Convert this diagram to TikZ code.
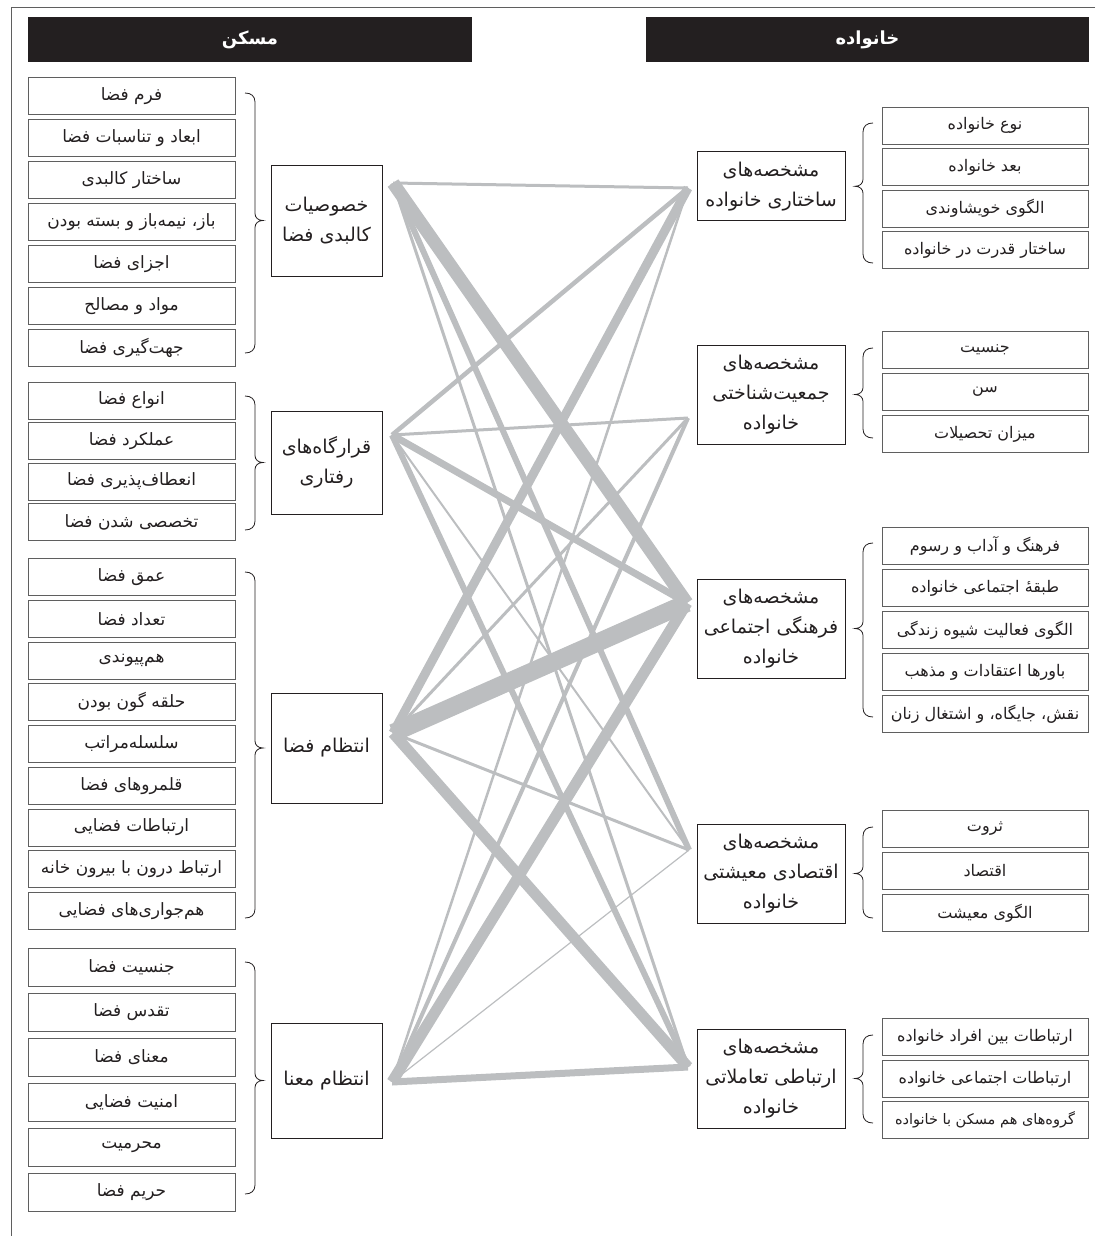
\documentclass[tikz,border=0pt]{standalone}
\usepackage{fontspec}
\newfontfamily\arabicfont[Script=Arabic]{DejaVu Sans}
\TeXXeTstate=1
\newcommand{\FA}[1]{{\arabicfont\beginR #1\endR}}
\definecolor{linegray}{RGB}{188,190,192}
\definecolor{boxgray}{RGB}{95,95,95}
\definecolor{ink}{RGB}{35,31,32}
\tikzset{
  leaf/.style={draw=boxgray, line width=0.9pt, minimum width=207pt, minimum height=37pt, inner sep=0pt, text=ink, font=\fontsize{17}{19}\selectfont},
  rleaf/.style={leaf, minimum width=206pt, font=\fontsize{16}{18}\selectfont},
  midnode/.style={draw=ink, line width=0.9pt, inner sep=0pt, text=ink, align=center, font=\fontsize{19}{30}\selectfont},
  header/.style={fill=ink, text=white, minimum height=45pt, inner sep=0pt, font=\fontsize{18}{20}\selectfont\bfseries},
  conn/.style={draw=linegray, line cap=butt},
  bracestyle/.style={draw=ink, line width=0.8pt},
}
\newcommand{\BraceL}[3]{% top, bump, bottom
  \draw[bracestyle] (245,#1) .. controls (251,#1) and (255,#1+3) .. (255,#1+9) -- (255,#2-7) .. controls (255,#2-3) and (258,#2) .. (263,#2) .. controls (258,#2) and (255,#2+3) .. (255,#2+7) -- (255,#3-9) .. controls (255,#3-3) and (251,#3) .. (245,#3);}
\newcommand{\BraceR}[3]{% top, bump, bottom
  \draw[bracestyle] (873,#1) .. controls (867,#1) and (863,#1+3) .. (863,#1+9) -- (863,#2-7) .. controls (863,#2-3) and (860,#2) .. (855,#2) .. controls (860,#2) and (863,#2+3) .. (863,#2+7) -- (863,#3-9) .. controls (863,#3-3) and (867,#3) .. (873,#3);}
\begin{document}
\begin{tikzpicture}[x=1pt,y=-1pt]
\useasboundingbox (0,0) rectangle (1095,1236);
% frame
\draw[boxgray, line width=1pt] (1095,8) -- (11.5,8) -- (11.5,1236);
% headers
\node[header, minimum width=444pt] (hL) at (250,39.5) {\FA{مسکن}};
\node[header, minimum width=443pt] (hR) at (867.5,39.5) {\FA{خانواده}};

% left leaves group 1
\node[leaf] (a1) at (131.5,96) {\FA{فرم فضا}};
\node[leaf] (a2) at (131.5,138) {\FA{ابعاد و تناسبات فضا}};
\node[leaf] (a3) at (131.5,180) {\FA{ساختار کالبدی}};
\node[leaf] (a4) at (131.5,222) {\FA{باز، نیمه‌باز و بسته بودن}};
\node[leaf] (a5) at (131.5,264) {\FA{اجزای فضا}};
\node[leaf] (a6) at (131.5,306) {\FA{مواد و مصالح}};
\node[leaf] (a7) at (131.5,348) {\FA{جهت‌گیری فضا}};
% group 2
\node[leaf] (b1) at (131.5,400.5) {\FA{انواع فضا}};
\node[leaf] (b2) at (131.5,441) {\FA{عملکرد فضا}};
\node[leaf] (b3) at (131.5,481.5) {\FA{انعطاف‌پذیری فضا}};
\node[leaf] (b4) at (131.5,522) {\FA{تخصصی شدن فضا}};
% group 3
\node[leaf] (c1) at (131.5,577) {\FA{عمق فضا}};
\node[leaf] (c2) at (131.5,618.75) {\FA{تعداد فضا}};
\node[leaf] (c3) at (131.5,660.5) {\FA{هم‌پیوندی}};
\node[leaf] (c4) at (131.5,702.25) {\FA{حلقه گون بودن}};
\node[leaf] (c5) at (131.5,744) {\FA{سلسله‌مراتب}};
\node[leaf] (c6) at (131.5,785.75) {\FA{قلمروهای فضا}};
\node[leaf] (c7) at (131.5,827.5) {\FA{ارتباطات فضایی}};
\node[leaf] (c8) at (131.5,869.25) {\FA{ارتباط درون با بیرون خانه}};
\node[leaf] (c9) at (131.5,911) {\FA{هم‌جواری‌های فضایی}};
% group 4
\node[leaf, minimum height=38pt] (d1) at (131.5,967) {\FA{جنسیت فضا}};
\node[leaf, minimum height=38pt] (d2) at (131.5,1012) {\FA{تقدس فضا}};
\node[leaf, minimum height=38pt] (d3) at (131.5,1057) {\FA{معنای فضا}};
\node[leaf, minimum height=38pt] (d4) at (131.5,1102) {\FA{امنیت فضایی}};
\node[leaf, minimum height=38pt] (d5) at (131.5,1147) {\FA{محرمیت}};
\node[leaf, minimum height=38pt] (d6) at (131.5,1192) {\FA{حریم فضا}};

% left middle nodes
\node[midnode, minimum width=111pt, minimum height=111pt] (L1) at (326.5,220.5) {\FA{خصوصیات}\\\FA{کالبدی فضا}};
\node[midnode, minimum width=111pt, minimum height=103pt] (L2) at (326.5,462.5) {\FA{قرارگاه‌های}\\\FA{رفتاری}};
\node[midnode, minimum width=111pt, minimum height=110pt] (L3) at (326.5,748) {\FA{انتظام فضا}};
\node[midnode, minimum width=111pt, minimum height=115pt] (L4) at (326.5,1080.5) {\FA{انتظام معنا}};

% right middle nodes
\node[midnode, minimum width=148pt, minimum height=69pt] (R1) at (771,186.3) {\FA{مشخصه‌های}\\\FA{ساختاری خانواده}};
\node[midnode, minimum width=148pt, minimum height=99pt] (R2) at (771,394.5) {\FA{مشخصه‌های}\\\FA{جمعیت‌شناختی}\\\FA{خانواده}};
\node[midnode, minimum width=148pt, minimum height=99pt] (R3) at (771,628.5) {\FA{مشخصه‌های}\\\FA{فرهنگی اجتماعی}\\\FA{خانواده}};
\node[midnode, minimum width=148pt, minimum height=99pt] (R4) at (771,873.5) {\FA{مشخصه‌های}\\\FA{اقتصادی معیشتی}\\\FA{خانواده}};
\node[midnode, minimum width=148pt, minimum height=99pt] (R5) at (771,1078.5) {\FA{مشخصه‌های}\\\FA{ارتباطی تعاملاتی}\\\FA{خانواده}};

% right leaves
\node[rleaf] (e1) at (985,125.5) {\FA{نوع خانواده}};
\node[rleaf] (e2) at (985,167) {\FA{بعد خانواده}};
\node[rleaf] (e3) at (985,208.5) {\FA{الگوی خویشاوندی}};
\node[rleaf] (e4) at (985,250) {\FA{ساختار قدرت در خانواده}};
\node[rleaf] (f1) at (985,350) {\FA{جنسیت}};
\node[rleaf] (f2) at (985,392) {\FA{سن}};
\node[rleaf] (f3) at (985,434) {\FA{میزان تحصیلات}};
\node[rleaf] (g1) at (985,546) {\FA{فرهنگ و آداب و رسوم}};
\node[rleaf] (g2) at (985,588) {\FA{طبقهٔ اجتماعی خانواده}};
\node[rleaf] (g3) at (985,630) {\FA{الگوی فعالیت شیوه زندگی}};
\node[rleaf] (g4) at (985,672) {\FA{باورها اعتقادات و مذهب}};
\node[rleaf] (g5) at (985,714) {\FA{نقش، جایگاه، و اشتغال زنان}};
\node[rleaf] (h1) at (985,829) {\FA{ثروت}};
\node[rleaf] (h2) at (985,871) {\FA{اقتصاد}};
\node[rleaf] (h3) at (985,913) {\FA{الگوی معیشت}};
\node[rleaf] (i1) at (985,1037) {\FA{ارتباطات بین افراد خانواده}};
\node[rleaf] (i2) at (985,1079) {\FA{ارتباطات اجتماعی خانواده}};
\node[rleaf, font=\fontsize{14.5}{17}\selectfont] (i3) at (985,1120) {\FA{گروه‌های هم مسکن با خانواده}};

% braces
\BraceL{93}{220.5}{353}
\BraceL{396}{462.5}{530}
\BraceL{572}{748}{918}
\BraceL{962}{1080.5}{1194}
\BraceR{123}{186.3}{263}
\BraceR{348}{394.5}{438}
\BraceR{543}{628.5}{717}
\BraceR{827}{873.5}{918}
\BraceR{1035}{1078.5}{1123}

% connector end points
\coordinate (pL1) at (393,183);
\coordinate (pL2) at (392,435);
\coordinate (pL3) at (393,733);
\coordinate (pL4) at (392,1082);
\coordinate (pR1) at (688,188);
\coordinate (pR2) at (688,418);
\coordinate (pR3) at (687,603);
\coordinate (pR4) at (689,850);
\coordinate (pR5) at (688,1067);

% connectors
\draw[conn, line width=3pt] (pL1) -- (pR1);
\draw[conn, line width=13pt] (pL1) -- (pR3);
\draw[conn, line width=6pt] (pL1) -- (pR4);
\draw[conn, line width=3pt] (pL1) -- (pR5);

\draw[conn, line width=4.5pt] (pL2) -- (pR1);
\draw[conn, line width=3pt] (pL2) -- (pR2);
\draw[conn, line width=7pt] (pL2) -- (pR3);
\draw[conn, line width=2pt] (pL2) -- (pR4);
\draw[conn, line width=6pt] (pL2) -- (pR5);

\draw[conn, line width=9pt] (pL3) -- (pR1);
\draw[conn, line width=3pt] (pL3) -- (pR2);
\draw[conn, line width=18pt] (pL3) -- (pR3);
\draw[conn, line width=3pt] (pL3) -- (pR4);
\draw[conn, line width=11pt] (pL3) -- (pR5);

\draw[conn, line width=2.5pt] (pL4) -- (pR1);
\draw[conn, line width=4pt] (pL4) -- (pR2);
\draw[conn, line width=11pt] (pL4) -- (pR3);
\draw[conn, line width=1.2pt] (pL4) -- (pR4);
\draw[conn, line width=7pt] (pL4) -- (pR5);
\end{tikzpicture}
\end{document}
